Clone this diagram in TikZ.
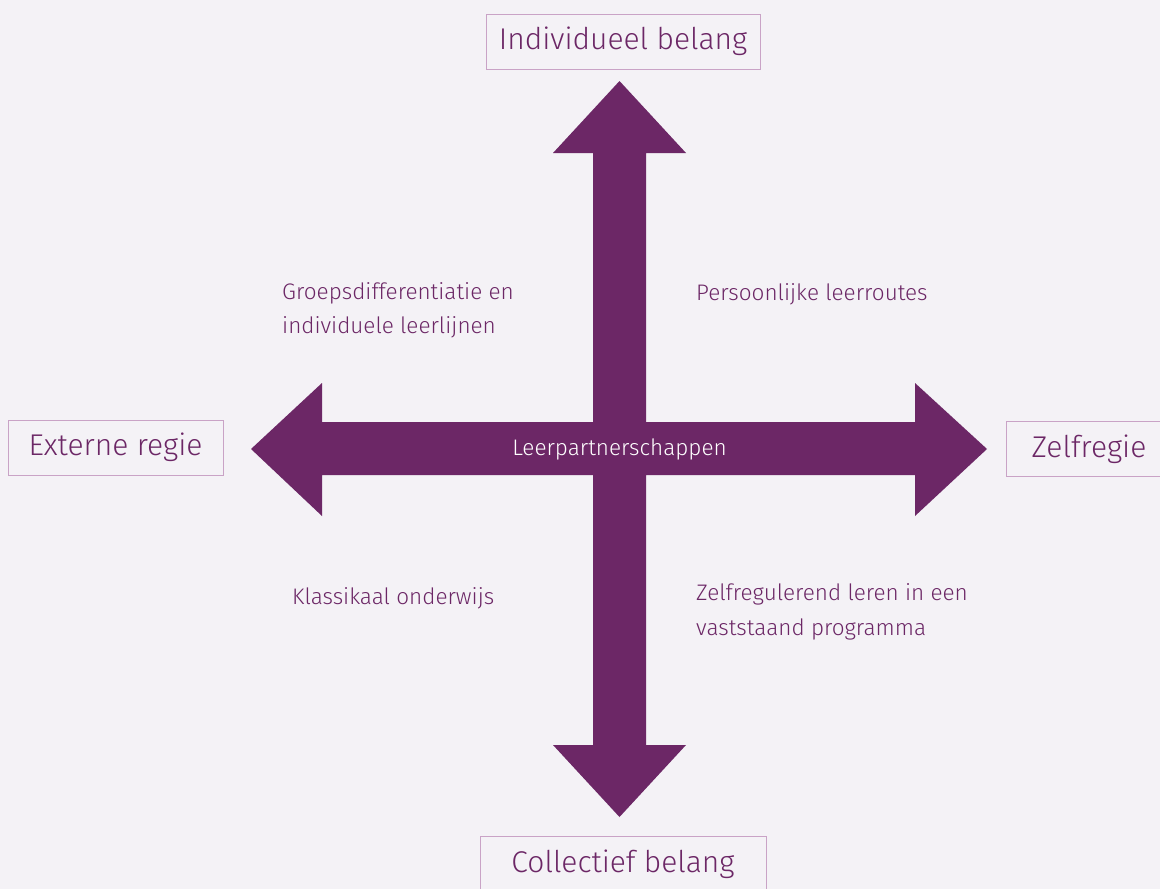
\documentclass[tikz,border=0pt]{standalone}
\usepackage{fontspec}
\setmainfont{Fira Sans}[UprightFont=* Light]
\definecolor{bg}{HTML}{F4F2F6}
\definecolor{arrowc}{HTML}{6C2766}
\definecolor{boxline}{HTML}{C9A3C6}
\definecolor{txt}{HTML}{6C2766}
\begin{document}
\begin{tikzpicture}[x=1pt,y=-1pt,
  pole/.style={draw=boxline, line width=1pt, fill=bg, text=txt, font=\fontsize{30}{34}\selectfont, inner sep=0pt, minimum height=55pt},
  quad/.style={text=txt, font=\fontsize{22.5}{34}\selectfont, anchor=base west, inner sep=0pt}]
\fill[bg] (0,0) rectangle (1160,889);
\useasboundingbox (0,0) rectangle (1160,889);
% cross arrow
\coordinate (tt) at (619.5,81);
\coordinate (bt) at (619.5,817);
\coordinate (lt) at (251,449);
\coordinate (rt) at (987,449);
\fill[arrowc] (tt) -- (686,153) -- (646,153) -- (646,422) -- (915,422) -- (915,383) -- (rt)
  -- (915,516) -- (915,475) -- (646,475) -- (646,745) -- (686,745) -- (bt) -- (553,745)
  -- (593,745) -- (593,475) -- (322,475) -- (322,516) -- (lt) -- (322,383) -- (322,422)
  -- (593,422) -- (593,153) -- (553,153) -- cycle;
\node[text=white, font=\fontsize{22.5}{26}\selectfont] (center) at (619.5,449) {Leerpartnerschappen};
% pole boxes
\node[pole, minimum width=274pt] (top) at (623,41.5) {Individueel belang};
\node[pole, minimum width=215pt] (left) at (115.5,447.5) {Externe regie};
\node[pole, minimum width=166pt] (right) at (1089,449) {Zelfregie};
\node[pole, minimum width=286pt, minimum height=56pt] (bottom) at (623,864) {Collectief belang};
% quadrant labels
\node[quad] (q1a) at (282,299) {Groepsdifferentiatie en};
\node[quad] (q1b) at (282,333) {individuele leerlijnen};
\node[quad] (q2) at (696,300) {Persoonlijke leerroutes};
\node[quad] (q3) at (292,604) {Klassikaal onderwijs};
\node[quad] (q4a) at (696,600) {Zelfregulerend leren in een};
\node[quad] (q4b) at (696,635) {vaststaand programma};
\end{tikzpicture}
\end{document}
